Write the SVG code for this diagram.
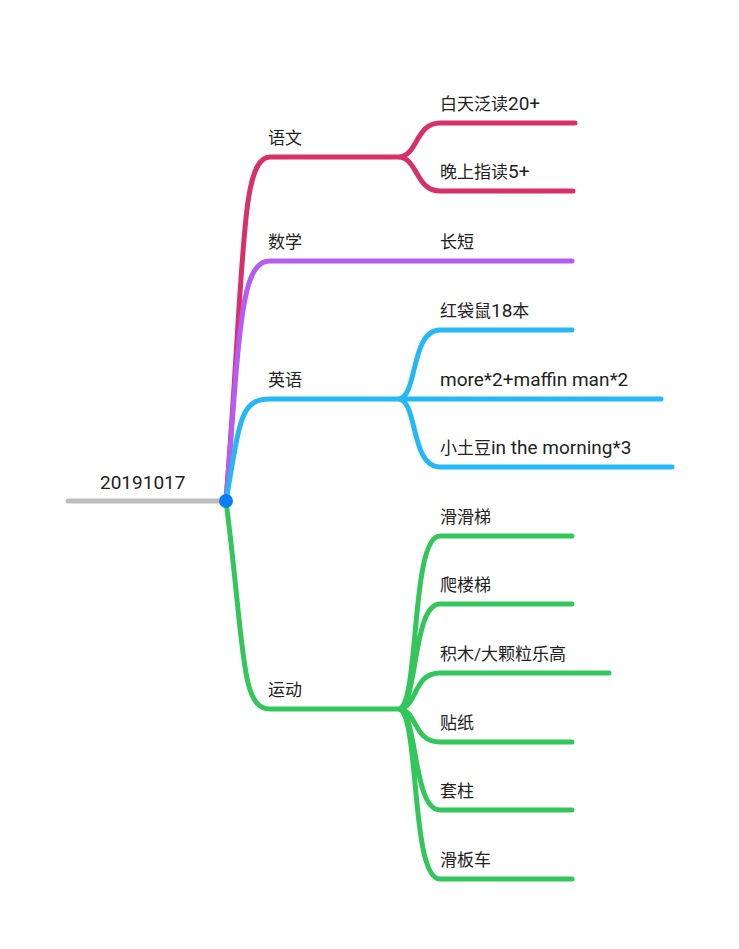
<svg xmlns="http://www.w3.org/2000/svg" width="739" height="949" viewBox="0 0 739 949">
<style>
.l{fill:none;stroke-width:5;stroke-linecap:round}
.r{stroke:#d8316a}.p{stroke:#b65cf2}.b{stroke:#25b8f5}.g{stroke:#33c65a}
text{font-family:Roboto,"Noto Sans CJK SC",sans-serif;font-size:17px;fill:#222}
.en{font-size:19px}
</style>
<rect width="739" height="949" fill="#fff"/>
<g id="connectors">
<path class="l" d="M68,501 L226,501" style="stroke:#bdbdbd"/>
<path class="l r" d="M226,501 C245,260 240,157 270,157 L398,157 C418,157 415,123 440,123 L575,123 M398,157 C418,157 415,191 440,191 L573,191"/>
<path class="l p" d="M226,501 C240,330 240,261 270,261 L572,261"/>
<path class="l b" d="M226,501 C240,420 240,399 270,399 L398,399 C418,399 410,330 440,330 L572,330 M398,399 L661,399 M398,399 C418,399 410,467 440,467 L672,467"/>
<path class="l g" d="M226,501 C245,650 240,709 270,709 L398,709 C420,709 410,536 440,536 L572,536 M398,709 C418,709 412,604 440,604 L572,604 M398,709 C418,709 412,673 440,673 L609,673 M398,709 C418,709 412,742 440,742 L572,742 M398,709 C418,709 412,810 440,810 L572,810 M398,709 C420,709 410,879 440,879 L572,879"/>
</g>
<circle id="root-dot" cx="226" cy="501" r="7" fill="#0a7ef5"/>
<g id="root"><text class="en" x="100" y="489">20191017</text></g>
<g id="yuwen"><text x="268" y="144">语文</text></g>
<g id="yw1"><text x="440" y="110">白天泛读<tspan class="en">20+</tspan></text></g>
<g id="yw2"><text x="440" y="178">晚上指读<tspan class="en">5+</tspan></text></g>
<g id="shuxue"><text x="268" y="248">数学</text></g>
<g id="sx1"><text x="440" y="248">长短</text></g>
<g id="yingyu"><text x="268" y="386">英语</text></g>
<g id="yy1"><text x="440" y="317">红袋鼠<tspan class="en">18</tspan>本</text></g>
<g id="yy2"><text class="en" x="440" y="386">more*2+maffin man*2</text></g>
<g id="yy3"><text x="440" y="454">小土豆<tspan class="en">in the morning*3</tspan></text></g>
<g id="yundong"><text x="268" y="696">运动</text></g>
<g id="yd1"><text x="440" y="523">滑滑梯</text></g>
<g id="yd2"><text x="440" y="591">爬楼梯</text></g>
<g id="yd3"><text x="440" y="660">积木/大颗粒乐高</text></g>
<g id="yd4"><text x="440" y="729">贴纸</text></g>
<g id="yd5"><text x="440" y="797">套柱</text></g>
<g id="yd6"><text x="440" y="866">滑板车</text></g>
</svg>
